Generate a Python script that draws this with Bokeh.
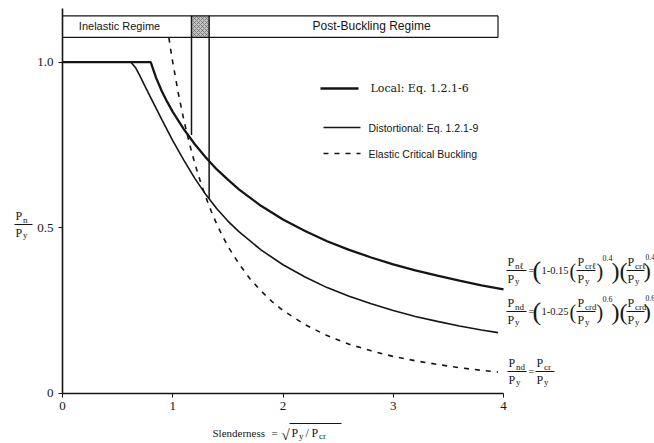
from bokeh.plotting import figure
from bokeh.models import Label, FixedTicker, Range1d
from bokeh.embed import file_html
from bokeh.resources import INLINE

# ---------------- data ----------------
x_ticks = [0, 1, 2, 3, 4]
x_tick_labels = ["0", "1", "2", "3", "4"]
y_ticks = [0, 0.5, 1.0]
y_tick_labels = ["0", "0.5", "1.0"]

local_x = [0.0, 0.80, 0.85, 0.9, 0.95, 1.0, 1.1, 1.2, 1.3, 1.4, 1.5, 1.6, 1.8, 2.0,
           2.2, 2.4, 2.6, 2.8, 3.0, 3.2, 3.4, 3.6, 3.8, 4.0]
local_y = [1.0, 1.0, 0.952, 0.913, 0.880, 0.850, 0.798, 0.752, 0.712, 0.676, 0.645,
           0.616, 0.566, 0.525, 0.490, 0.459, 0.433, 0.410, 0.389, 0.371, 0.355, 0.340, 0.326, 0.314]

dist_x = [0.0, 0.62, 0.66, 0.7, 0.75, 0.8, 0.9, 1.0, 1.1, 1.2, 1.3, 1.4, 1.5, 1.6, 1.8,
          2.0, 2.2, 2.4, 2.6, 2.8, 3.0, 3.2, 3.4, 3.6, 3.8, 3.95]
dist_y = [1.0, 1.0, 0.985, 0.960, 0.926, 0.893, 0.827, 0.763, 0.704, 0.649, 0.600,
          0.557, 0.520, 0.488, 0.433, 0.388, 0.351, 0.319, 0.293, 0.270, 0.250, 0.232, 0.217,
          0.203, 0.191, 0.183]

elastic_x = [0.965, 0.98, 1.0, 1.05, 1.1, 1.15, 1.2, 1.25, 1.3, 1.35, 1.4, 1.45, 1.5, 1.6, 1.7,
             1.8, 1.9, 2.0, 2.2, 2.4, 2.6, 2.8, 3.0, 3.2, 3.4, 3.6, 3.8, 3.95]
elastic_y = [1.074, 1.041, 1.0, 0.907, 0.826, 0.756, 0.694, 0.640, 0.592, 0.549, 0.510, 0.476,
             0.444, 0.391, 0.346, 0.309, 0.277, 0.250, 0.207, 0.174, 0.148, 0.128, 0.111,
             0.098, 0.087, 0.077, 0.069, 0.064]

regime_x = [1.17, 1.33]          # limits of the transition band
regime_line_bottom = [0.78, 0.59]
header_bottom = 1.075
header_top = 1.14
header_right = 3.95
y_axis_top = 1.162

legend_names = ["Local: Eq. 1.2.1-6", "Distortional: Eq. 1.2.1-9", "Elastic Critical Buckling"]
regime_names = ["Inelastic Regime", "Post-Buckling Regime"]

# ---------------- figure ----------------
W, H = 654, 443
XS = 110.25      # pixels per x unit
YS = 331.0       # pixels per y unit
LEFT = 62.0      # canvas px of x = 0
BOTTOM = 50.3    # canvas px (from bottom) of y = 0
OFF = 0          # page offset of the canvas

p = figure(width=W, height=H, output_backend="svg", toolbar_location=None,
           x_range=Range1d(-LEFT / XS, (W - LEFT) / XS),
           y_range=Range1d(-BOTTOM / YS, (H - BOTTOM) / YS),
           min_border=0)
p.outline_line_color = None
p.grid.visible = False
p.background_fill_color = "white"

INK = "#151515"
SERIF = "Liberation Serif"
SANS = "Liberation Sans"

for ax in (p.xaxis, p.yaxis):
    ax.fixed_location = 0
    ax.axis_line_color = INK
    ax.axis_line_width = 1.6
    ax.major_tick_line_color = INK
    ax.major_tick_out = 4
    ax.major_tick_in = 0
    ax.minor_tick_line_color = None
    ax.major_label_text_font = SERIF
    ax.major_label_text_font_size = "13px"
    ax.major_label_text_color = INK
    ax.major_label_standoff = 5
p.xaxis.bounds = (0, x_ticks[-1])
p.xaxis.ticker = FixedTicker(ticks=x_ticks)
p.xaxis.major_label_overrides = {t: s for t, s in zip(x_ticks, x_tick_labels)}
p.yaxis.bounds = (0, y_axis_top)
p.yaxis.ticker = FixedTicker(ticks=y_ticks)
p.yaxis.major_label_overrides = {t: s for t, s in zip(y_ticks, y_tick_labels)}

# ---------------- curves ----------------
p.line(dist_x, dist_y, line_color=INK, line_width=1.6)
p.line(local_x, local_y, line_color=INK, line_width=2.3)
p.line(elastic_x, elastic_y, line_color=INK, line_width=1.6, line_dash="5 6")

# regime band + header
p.quad(left=[regime_x[0]], right=[regime_x[1]], bottom=[header_bottom], top=[header_top],
       fill_color="#b5b5b5", fill_alpha=0.8, hatch_pattern="x", hatch_color="#555555",
       hatch_scale=4, hatch_alpha=0.6, line_color=None)
p.segment(x0=regime_x, y0=[header_top, header_top], x1=regime_x, y1=regime_line_bottom,
          line_color=INK, line_width=1.5)
p.segment(x0=[0, 0, header_right], y0=[header_top, header_bottom, header_bottom],
          x1=[header_right, header_right, header_right], y1=[header_top, header_bottom, header_top],
          line_color=INK, line_width=1.2)


# ---------------- helpers for text in page pixels ----------------
def at(X, Y):
    """page pixel -> data coordinates"""
    return ((X - OFF - LEFT) / XS, (H + OFF - BOTTOM - Y) / YS)


def lab(X, Y, text, size, font=SERIF, align="left", baseline="middle"):
    x, y = at(X, Y)
    p.add_layout(Label(x=x, y=y, text=text, text_font=font, text_font_size=f"{size}px",
                       text_align=align, text_baseline=baseline, text_color=INK))


def hline(X0, X1, Y, width=1.0):
    x0, y0 = at(X0, Y)
    x1, _ = at(X1, Y)
    p.segment(x0=[x0], y0=[y0], x1=[x1], y1=[y0], line_color=INK, line_width=width)


def frac(X, Ybar, num_sub, den_sub="y", w=19, size=12, sub=9):
    lab(X, Ybar - 2, "P", size, baseline="bottom")
    lab(X + 7.5, Ybar, num_sub, sub, baseline="bottom")
    hline(X - 1, X + w, Ybar, 1.0)
    lab(X, Ybar + 1.5, "P", size, baseline="top")
    lab(X + 7.5, Ybar + 5, den_sub, sub, baseline="top")


# header texts
lab(119, 25, regime_names[0], 11, font=SANS, align="center")
lab(312, 25, regime_names[1], 12, font=SANS)

# legend
lx0, ly = at(320, 88)
lx1, _ = at(358, 88)
p.segment(x0=[lx0], y0=[ly], x1=[lx1], y1=[ly], line_color=INK, line_width=2.3)
lab(370, 88, legend_names[0], 11, font="DejaVu Serif")
lx0, ly = at(323, 127)
lx1, _ = at(360, 127)
p.segment(x0=[lx0], y0=[ly], x1=[lx1], y1=[ly], line_color=INK, line_width=1.6)
lab(368, 127, legend_names[1], 10.5, font=SANS)
lx0, ly = at(323, 153)
lx1, _ = at(360, 153)
p.segment(x0=[lx0], y0=[ly], x1=[lx1], y1=[ly], line_color=INK, line_width=1.6, line_dash="5 6")
lab(368, 153, legend_names[2], 10.5, font=SANS)

# y axis label  Pn / Py
frac(15, 224, "n", w=17)

# x axis label  Slenderness = sqrt(Py / Pcr)
lab(212, 432, "Slenderness", 11)
lab(274, 432, "=", 11, align="center")
lab(281, 434, "\u221a", 15, align="left")
hline(289, 341, 423, 1.0)
lab(291, 432, "P", 12)
lab(298.5, 435, "y", 9)
lab(305, 432, "/", 12)
lab(311, 432, "P", 12)
lab(318.5, 435, "cr", 9)

# equation 1 (local)
Yb = 270
frac(507, Yb, "n\u2113")
lab(528, Yb, "=", 10)
lab(532, Yb, "(", 26)
lab(541, Yb, "1-0.15", 10.5)
lab(569, Yb, "(", 20)
frac(577, Yb, "cr\u2113", w=18)
lab(596, Yb, ")", 20)
lab(602, Yb - 13, "0.4", 8)
lab(611, Yb, ")(", 24)
frac(627, Yb, "cr\u2113", w=17)
lab(643, Yb, ")", 22)
lab(645, Yb - 14, "0.4", 7.5)

# equation 2 (distortional)
Yb = 311
frac(507, Yb, "nd")
lab(528, Yb, "=", 10)
lab(532, Yb, "(", 26)
lab(541, Yb, "1-0.25", 10.5)
lab(569, Yb, "(", 20)
frac(577, Yb, "crd", w=18)
lab(596, Yb, ")", 20)
lab(602, Yb - 13, "0.6", 8)
lab(611, Yb, ")(", 24)
frac(627, Yb, "crd", w=17)
lab(643, Yb, ")", 22)
lab(645, Yb - 14, "0.6", 7.5)

# equation 3 (elastic)
Yb = 371
frac(508, Yb, "nd", w=18)
lab(528, Yb, "=", 10)
frac(536, Yb, "cr", w=18)

open("out.html", "w").write(file_html(p, INLINE))
